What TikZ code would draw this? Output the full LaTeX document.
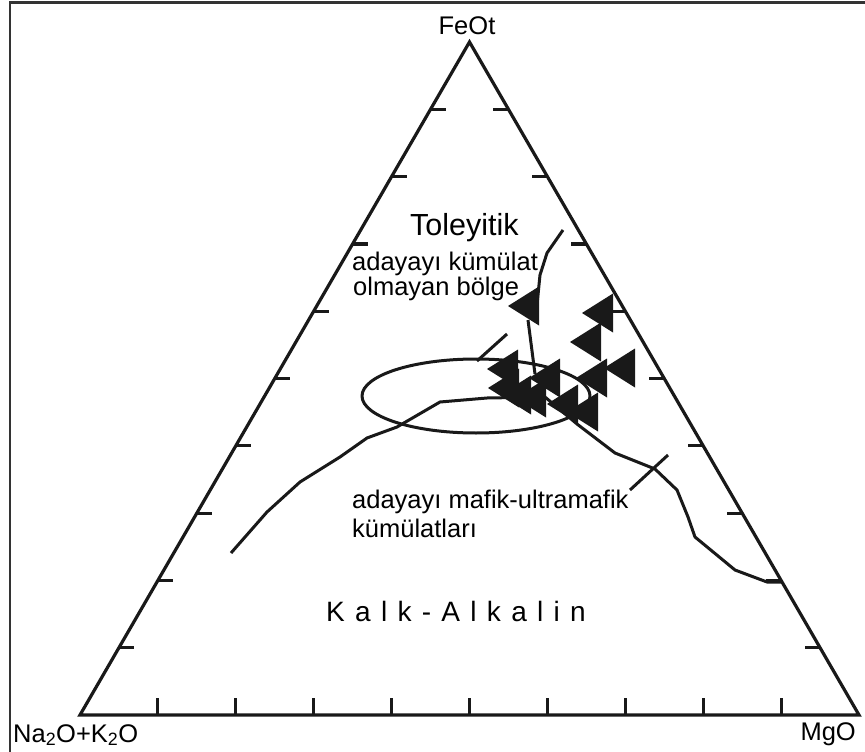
\documentclass[tikz,border=0pt]{standalone}
\usepackage{fontspec}
\setmainfont{Liberation Sans}
\usetikzlibrary{calc}
\newcommand{\ks}{\hspace{10.3pt}}
\begin{document}
\begin{tikzpicture}[x=1pt,y=-1pt,
  axis/.style={line width=3.2pt, draw=black!90, line join=miter},
  tickmark/.style={line width=3.2pt, draw=black!90},
  curve/.style={line width=3pt, draw=black!90, line join=round},
  marker/.style={fill=black!90},
  lbl/.style={font=\fontsize{25.5}{30}\selectfont, inner sep=0pt, anchor=base west},
  framestyle/.style={line width=2.2pt, draw=black!80}]
\useasboundingbox (0,0) rectangle (865,752);
% frame
\draw[framestyle] (10,752) -- (10,2.5) -- (865,2.5);
% triangle
\coordinate (L) at (80,715);
\coordinate (R) at (859,715);
\coordinate (T) at (469.5,42);
\draw[axis] (L) -- (R) -- (T) -- cycle;
\foreach \k in {1,...,9}{
  \draw[tickmark] ($(L)!\k/10!(R)$) -- ++(0,-17);
  \draw[tickmark] ($(L)!\k/10!(T)$) -- ++(15,0);
  \draw[tickmark] ($(R)!\k/10!(T)$) -- ++(-15,0);
}
% ellipse
\draw[curve] (476,396) ellipse [x radius=114, y radius=37];
% boundary line
\draw[curve] (231,553) -- (267,512) -- (300,482) -- (340,457) -- (367,438)
  -- (397,427) -- (440,402) -- (487,398) -- (545,397) -- (577,424)
  -- (615,453) -- (655,469) -- (677,490) -- (688,517) -- (695,537)
  -- (735,570) -- (767,582) -- (781,582);
% short lines
\draw[curve] (477,361) -- (507,334);
\draw[curve] (630,490) -- (668,455);
\draw[curve] (563,230) -- (547,253) -- (540,275) -- (537,305);
\draw[curve] (528,320) -- (535,374);
% markers
\foreach \x/\y in {508/306, 582/313, 570/342, 604/368, 576/378, 487/369,
                   488/388, 500/395, 515/398, 529/378, 547/404, 567/412}
  \fill[marker] (\x,\y) -- ++(31,-19.5) -- ++(0,39) -- cycle;
% labels
\node[lbl, anchor=base] (feot) at (467,35) {FeOt};
\node[lbl] (na) at (13,742) {Na\textsubscript{2}O+K\textsubscript{2}O};
\node[lbl, anchor=base east] (mgo) at (856,740) {MgO};
\node[lbl, font=\fontsize{30.5}{36}\selectfont] (tol) at (410,235) {Toleyitik};
\node[lbl] (ak1) at (352,270) {adayayı kümülat};
\node[lbl] (ak2) at (353,295) {olmayan bölge};
\node[lbl] (mu1) at (352,508) {adayayı mafik-ultramafik};
\node[lbl] (mu2) at (352,537) {kümülatları};
\node[lbl, font=\fontsize{28}{32}\selectfont] (ka) at (326,621)
  {K\ks a\ks l\ks k\ks -\ks A\ks l\ks k\ks a\ks l\ks i\ks n};
\end{tikzpicture}
\end{document}
